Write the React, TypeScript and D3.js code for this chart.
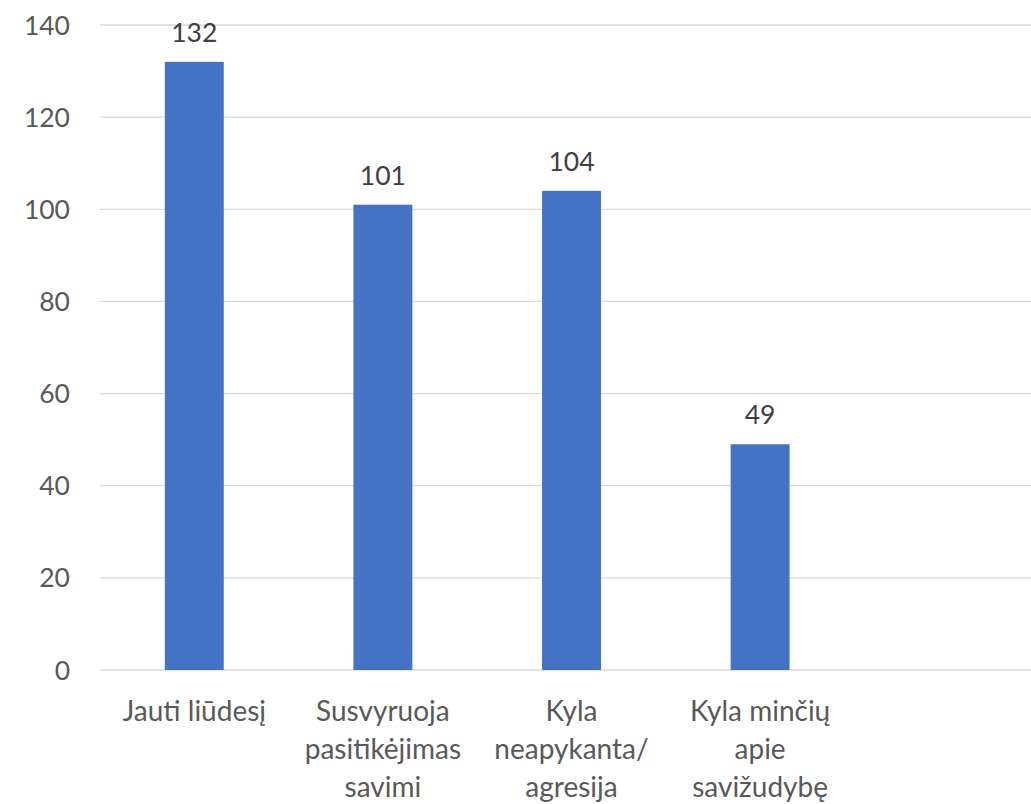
import React from "react";
import * as d3 from "d3";

const categories = ["Jauti liūdesį", "Susvyruoja pasitikėjimas savimi", "Kyla neapykanta/ agresija", "Kyla minčių apie savižudybę", ""];
const categoryLines = [
  ["Jauti liūdesį"],
  ["Susvyruoja", "pasitikėjimas", "savimi"],
  ["Kyla", "neapykanta/", "agresija"],
  ["Kyla minčių", "apie", "savižudybę"],
  [],
];
const values: (number | null)[] = [132, 101, 104, 49, null];
const yTicks = [0, 20, 40, 60, 80, 100, 120, 140];

const W = 1031;
const H = 804;
const FONT = "Lato, 'Open Sans', sans-serif";

export default function App() {
  const x = d3.scaleBand<string>().domain(categories).range([100, 1043]).paddingInner(0.6875).paddingOuter(0.34375);
  const y = d3.scaleLinear().domain([0, 140]).range([670, 25]);
  return (
    <div style={{ position: "fixed", left: 0, top: 0 }}>
      <svg width={W} height={H} style={{ display: "block", background: "#fff" }}>
        {yTicks.map((t) => (
          <g key={t}>
            <line x1={100} x2={1043} y1={y(t)} y2={y(t)} stroke="#d9d9d9" strokeWidth={1.3} />
            <text x={70} y={y(t)} dy="0.36em" textAnchor="end" fontFamily={FONT} fontSize={26.5} fill="#595959">
              {t}
            </text>
          </g>
        ))}
        {categories.map((c, i) => {
          const v = values[i];
          const bx = x(c)!;
          const bw = x.bandwidth();
          const cx = bx + bw / 2;
          return (
            <g key={i}>
              {v != null && (
                <>
                  <rect x={bx} y={y(v)} width={bw} height={y(0) - y(v)} fill="#4472C4" />
                  <text x={cx} y={y(v) - 20} textAnchor="middle" fontFamily={FONT} fontSize={26.5} fill="#404040">
                    {v}
                  </text>
                </>
              )}
              {categoryLines[i].map((ln, j) => (
                <text key={j} x={cx} y={721 + j * 38} textAnchor="middle" fontFamily={FONT} fontSize={28} fill="#595959">
                  {ln}
                </text>
              ))}
            </g>
          );
        })}
      </svg>
    </div>
  );
}
